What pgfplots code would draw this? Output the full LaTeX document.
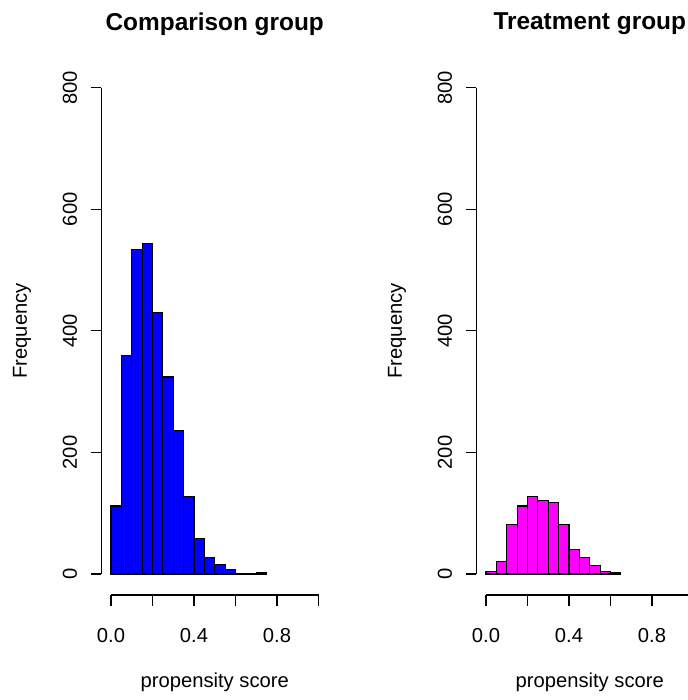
\documentclass[border=0pt]{standalone}
\usepackage{pgfplots}
\pgfplotsset{compat=1.18}
\usepackage{fontspec}
\setmainfont{Liberation Sans}

\definecolor{rblue}{RGB}{0,0,255}
\definecolor{rmagenta}{RGB}{255,0,255}

% 1 px of the reference = 0.5pt
\pgfplotsset{
  rhist/.style={
    hide axis, clip=false,
    x=103.75pt, y=0.30395pt,
    xmin=-0.04, xmax=1.04, ymin=-32, ymax=832,
    anchor=origin,
  },
}
\tikzset{
  lab/.style={font=\fontsize{10.1}{12}\selectfont, inner sep=0pt},
  ttl/.style={font=\fontsize{12.2}{14}\selectfont\bfseries, inner sep=0pt},
  ax/.style={line width=0.6pt},
}
% R-style axes: x axis 0..1, y axis 0..800
\newcommand{\rframe}[1]{%
  \draw[ax] (axis cs:0,-34.5) -- (axis cs:1,-34.5);
  \draw[ax] (axis cs:0,-34.5) -- (axis cs:0,-52.6);
  \draw[ax] (axis cs:0.2,-34.5) -- (axis cs:0.2,-52.6);
  \draw[ax] (axis cs:0.4,-34.5) -- (axis cs:0.4,-52.6);
  \draw[ax] (axis cs:0.6,-34.5) -- (axis cs:0.6,-52.6);
  \draw[ax] (axis cs:0.8,-34.5) -- (axis cs:0.8,-52.6);
  \draw[ax] (axis cs:1,-34.5) -- (axis cs:1,-52.6);
  \node[lab] at (axis cs:0,-102) {0.0};
  \node[lab] at (axis cs:0.4,-102) {0.4};
  \node[lab] at (axis cs:0.8,-102) {0.8};
  \node[lab] at (axis cs:0.5,-177.6) {propensity score};
  \draw[ax] (axis cs:-0.046,0) -- (axis cs:-0.046,800);
  \draw[ax] (axis cs:-0.046,0) -- (axis cs:-0.098,0);
  \draw[ax] (axis cs:-0.046,200) -- (axis cs:-0.098,200);
  \draw[ax] (axis cs:-0.046,400) -- (axis cs:-0.098,400);
  \draw[ax] (axis cs:-0.046,600) -- (axis cs:-0.098,600);
  \draw[ax] (axis cs:-0.046,800) -- (axis cs:-0.098,800);
  \node[lab, rotate=90] at (axis cs:-0.198,0) {0};
  \node[lab, rotate=90] at (axis cs:-0.198,200) {200};
  \node[lab, rotate=90] at (axis cs:-0.198,400) {400};
  \node[lab, rotate=90] at (axis cs:-0.198,600) {600};
  \node[lab, rotate=90] at (axis cs:-0.198,800) {800};
  \node[lab, rotate=90] at (axis cs:-0.429,400) {Frequency};
  \node[ttl] at (axis cs:0.5,905) {#1};
}

\begin{document}
\begin{tikzpicture}
\useasboundingbox (0,0) rectangle (344pt,350pt);
\clip (0,0) rectangle (344pt,350pt);

\begin{axis}[rhist, at={(55.5pt,63pt)}]
\addplot[ybar interval, fill=rblue, draw=black, line width=0.6pt] coordinates {
  (0.00,112) (0.05,359) (0.10,534) (0.15,544) (0.20,430) (0.25,324)
  (0.30,236) (0.35,127) (0.40,58) (0.45,27) (0.50,15) (0.55,8)
  (0.60,0) (0.65,0) (0.70,2) (0.75,0)
};
\rframe{Comparison group}
\end{axis}

\begin{axis}[rhist, at={(243pt,63pt)}]
\addplot[ybar interval, fill=rmagenta, draw=black, line width=0.6pt] coordinates {
  (0.00,4) (0.05,21) (0.10,81) (0.15,112) (0.20,127) (0.25,121)
  (0.30,118) (0.35,81) (0.40,40) (0.45,27) (0.50,14) (0.55,4)
  (0.60,2) (0.65,0)
};
\rframe{Treatment group}
\end{axis}
\end{tikzpicture}
\end{document}
